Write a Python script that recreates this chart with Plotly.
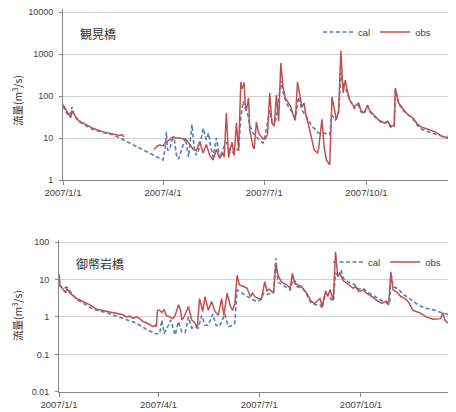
import pandas as pd
import plotly.graph_objects as go

START = pd.Timestamp("2007-01-01")

# ---- Top chart (観晃橋) ----
top_obs_day = [0, 3, 6, 7, 8, 10, 14, 20, 27, 36, 45, 48, 51, 53, 55, 68,
               82, 85, 87, 90, 93, 96, 99, 102, 105, 108, 111, 114, 117, 120, 123, 126, 129, 132, 135, 138, 141,
               144, 145, 147, 149, 152, 154, 156, 158, 160, 161, 162, 163, 164, 165, 167, 168, 171, 172, 174, 176,
               180, 182, 184, 186, 188, 190, 192, 194, 196, 198, 200, 205, 208, 209, 211, 213, 215, 217, 218, 221,
               224, 226, 229, 230, 233, 235, 237, 240, 242, 244, 246, 248, 250, 252, 254, 256, 258, 262, 266, 268,
               271, 274, 276, 280, 284, 289, 292, 295, 298, 299, 302, 307, 311, 315, 319, 323, 329, 335, 341, 346,
               347, 350]
top_obs_val = [62, 45, 32, 30, 45, 36, 26, 21, 17, 14, 12.5, 12, 11.5, 12, 10.5, None,
               5.4, 6.5, 6.8, 6.5, 8.2, 9, 10.6, 10, 10, 9.5, 9, 7, 5.4, 5, 8.2, 4.4, 7, 3.9, 3.0, 5.3, 3.3,
               4.4, 3.5, 40, 3.4, 8, 3.8, 23, 5, 215, 150, 170, 210, 60, 46, 90, 15.5, 6.1, 5.5, 24, 13,
               9.5, 9.5, 12, 118, 23, 19, 105, 25, 610, 163, 90, 55, 30, 26, 215, 95, 55, 68, 42, 20,
               9, 5.2, 4.4, 5.6, 28, 6, 3, 2.3, 95, 46, 27, 46, 1200, 118, 240, 125, 80, 55, 68, 45,
               40, 61, 45, 35, 27, 23, 25, 19, 20, 155, 68, 45, 35, 30, 21, 18, 16, 14, 11, 10,
               12, 9.5]

top_cal_day = [0, 3, 6, 8, 10, 14, 20, 27, 36, 45, 90, 92, 93, 94, 96, 98, 100, 102, 104, 107, 110, 113,
               116, 118, 120, 123, 126, 129, 131, 133, 135, 138, 141, 144, 147, 150, 153, 156, 158, 160, 162,
               164, 166, 168, 171, 175, 180, 182, 184, 186, 188, 191, 193, 196, 199, 202, 205, 209, 212, 215,
               218, 221, 224, 227, 230, 236, 240, 242, 245, 248, 250, 252, 254, 257, 262, 266, 268, 271, 274,
               276, 280, 284, 289, 292, 295, 298, 299, 302, 307, 311, 315, 319, 323, 329, 335, 341, 346, 347, 350]
top_cal_val = [58, 40, 33, 55, 35, 25, 20, 16, 13.5, 12, 3.0, 6, 14, 5.2, 5.2, 9, 10, 4, 3.1, 6, 10, 3.5,
               21, 6, 3.9, 6, 17, 9, 13, 6, 3.5, 10, 3.3, 5.5, 8, 5, 4.5, 5.5, 5, 30, 75,
               50, 39, 20, 13, 10, 7.6, 12, 25, 46, 23, 25, 46, 230, 95, 60, 46, 30, 95, 46,
               35, 25, 19, 16, 13, 13, 12, 35, 27, 40, 360, 200, 155, 95, 50, 60, 42, 38, 58,
               42, 33, 26, 22, 24, 18, 19, 140, 65, 43, 34, 28, 20, 16, 14, 12.5, 11, 10, 11, 9.5]

# ---- Bottom chart (御幣岩橋) ----
bot_obs_day = [0, 1, 2, 4, 6, 7, 10, 16, 22, 28, 34, 43, 52, 58, 61, 64, 67, 70, 73, 76, 79, 82, 85, 87, 88,
               89, 91, 93, 95, 97, 100, 103, 105, 108, 110, 111, 113, 117, 120, 123, 125, 127, 130, 132, 135,
               138, 141, 144, 147, 149, 152, 155, 157, 159, 161, 163, 167, 170, 173, 175, 177, 180, 183, 186,
               188, 190, 194, 196, 198, 201, 206, 209, 211, 213, 216, 219, 224, 228, 231, 234, 236, 238, 241,
               243, 245, 248, 250, 252, 254, 257, 260, 263, 266, 268, 271, 275, 278, 283, 287, 292, 295, 298,
               300, 302, 305, 309, 313, 316, 320, 326, 332, 338, 343, 345, 347, 349, 352, 355]
bot_obs_val = [14, 7, 6.4, 5.2, 4.4, 5.8, 4.3, 3.1, 2.6, 2.1, 1.6, 1.4, 1.2, 1.15, 1.0, 1.05, 0.92, 1.0, 0.9,
               0.75, 0.7, 0.61, 0.55, 0.6, 0.55,
               1.5, 1.5, 1.3, 1.6, 1.1, 1.0, 0.9, 1.1, 2.1, 1.5, 0.83, 1.0, 1.9, 0.83, 0.68, 0.5, 3.1, 1.4, 3.5,
               1.5, 2.6, 1.4, 1.1, 3.1, 1.1, 4.3, 1.9, 1.5, 2.3, 13, 7.1, 6.5, 5.8, 3.5, 4.3, 3.5, 3.1, 3.0, 8.7,
               5, 5.5, 4.3, 27, 13, 8.7, 7.1, 5.8, 14.6, 7.8, 7.1, 6.5, 4.3, 2.6, 2.3, 2.8, 3.1, 1.9, 5.0,
               3.5, 5.4, 2.8, 55, 11.8, 14.6, 9.4, 8, 7.1, 5.8, 6.5, 4.8, 5.2, 4.3, 3.5, 2.8, 2.3, 2.6, 2.1,
               14.6, 5.3, 4.7, 3.5, 3.1, 2.5, 1.5, 1.3, 1.0, 0.87, 0.87, 0.9, 1.3, 0.8, 0.68, 0.58]

bot_cal_day = [0, 4, 7, 10, 16, 22, 28, 34, 43, 52, 61, 70, 79, 88, 91, 93, 95, 97, 99, 101, 103, 105, 108,
               111, 114, 117, 120, 123, 126, 129, 132, 135, 139, 142, 145, 150, 153, 157, 159, 160, 161, 163,
               167, 171, 174, 179, 182, 185, 188, 191, 194, 196, 198, 201, 206, 209, 212, 215, 220, 224, 228,
               233, 236, 238, 241, 244, 248, 250, 252, 255, 257, 263, 267, 271, 275, 278, 283, 287, 292, 296,
               299, 300, 302, 307, 311, 316, 320, 326, 332, 340, 346, 350, 355]
bot_cal_val = [7, 5.8, 6.3, 4.8, 2.9, 2.3, 1.8, 1.5, 1.3, 1.05, 0.83, 0.68, 0.47, 0.35, 0.36, 0.83, 0.36, 0.45,
               0.6, 0.83, 0.5, 0.33, 0.75, 0.4, 0.38, 1.0, 0.5, 0.55, 0.5, 1.1, 0.6, 0.6, 1.2, 0.6, 0.55, 1.2,
               0.55, 0.6, 0.7, 1.5, 5.2, 4.8, 4.0, 3.3, 3.0, 2.6, 2.8, 4.3, 4.0, 4.3, 4.8, 37, 8.5, 7.5, 5.8,
               5.2, 12, 6.5, 6, 4.0, 2.3, 2.1, 2.1, 1.7, 4.3, 3.5, 2.6, 15, 12, 18, 10.8, 8, 7.4, 5.5, 5.8,
               4.8, 4, 3.3, 2.7, 2.6, 2.3, 16, 6.5, 5.5, 4, 3.3, 2.6, 2.0, 1.7, 1.5, 1.3, 1.2, 1.1]

x_tick_dates = ["2007-01-01", "2007-04-01", "2007-07-01", "2007-10-01"]
x_tick_text = ["2007/1/1", "2007/4/1", "2007/7/1", "2007/10/1"]
top_y_ticks = [1, 10, 100, 1000, 10000]
top_y_text = ["1", "10", "100", "1000", "10000"]
bot_y_ticks = [0.01, 0.1, 1, 10, 100]
bot_y_text = ["0.01", "0.1", "1", "10", "100"]
top_title = "観晃橋"
bot_title = "御幣岩橋"
y_title = "流量(m<sup>3</sup>/s)"


def to_dates(days):
    return [START + pd.Timedelta(days=d) for d in days]


BLUE = "#4F81BD"
RED = "#C0504D"
# The page body has an 8px margin: the figure is sized to the visible area.
OFF = 8
W, H = 456 - OFF, 412 - OFF
FONT = "Liberation Sans, Arial, Noto Sans CJK JP"


def px(X):
    return (X - OFF) / W


def py(Y):
    return 1 - (Y - OFF) / H


DASH = "4px,2.5px"
EPS = 0.003
TOP_PAD = 0.06          # extra decades above 10000 / 100 so their gridlines are kept
PX_PER_DEC_TOP = 42.0   # (180 - 12) / 4
PX_PER_DEC_BOT = 37.5   # (392 - 242) / 4

fig = go.Figure()
fig.add_trace(go.Scatter(x=to_dates(top_cal_day), y=top_cal_val, mode="lines", name="cal",
                         line=dict(color=BLUE, width=1.6, dash=DASH), xaxis="x", yaxis="y",
                         legend="legend"))
fig.add_trace(go.Scatter(x=to_dates(top_obs_day), y=top_obs_val, mode="lines", name="obs",
                         line=dict(color=RED, width=1.5), connectgaps=False, xaxis="x", yaxis="y",
                         legend="legend"))
fig.add_trace(go.Scatter(x=to_dates(bot_cal_day), y=bot_cal_val, mode="lines", name="cal",
                         line=dict(color=BLUE, width=1.6, dash=DASH), xaxis="x2", yaxis="y2",
                         legend="legend2"))
fig.add_trace(go.Scatter(x=to_dates(bot_obs_day), y=bot_obs_val, mode="lines", name="obs",
                         line=dict(color=RED, width=1.5), xaxis="x2", yaxis="y2",
                         legend="legend2"))

axis_common = dict(showline=True, linecolor="#868686", linewidth=1, zeroline=False, automargin=False,
                   ticklabeloverflow="allow")
xcommon = dict(axis_common, type="date", tickvals=x_tick_dates, ticktext=x_tick_text,
               showgrid=False, ticks="outside", ticklen=4, tickcolor="#868686",
               tickfont=dict(size=9.5, color="#404040", family=FONT))
ycommon = dict(axis_common, type="log", showgrid=True, gridcolor="#d0d0d0", gridwidth=1,
               ticks="outside", ticklen=3, tickcolor="#868686", ticklabelstandoff=4,
               tickfont=dict(size=9, color="#404040", family=FONT))

legend_common = dict(orientation="h", xanchor="right", yanchor="middle", bgcolor="rgba(0,0,0,0)",
                     font=dict(size=9.5, color="#404040", family=FONT), itemwidth=30, tracegroupgap=0)

fig.update_layout(
    width=W, height=H,
    margin=dict(l=0, r=0, t=0, b=0, autoexpand=False),
    paper_bgcolor="white", plot_bgcolor="white",
    font=dict(family=FONT, color="#404040"),
    showlegend=True,
    xaxis=dict(xcommon, domain=[px(63), px(452)], anchor="y",
               range=[START, START + pd.Timedelta(days=350)]),
    yaxis=dict(ycommon, domain=[py(180), py(12 - TOP_PAD * PX_PER_DEC_TOP)], anchor="x",
               range=[0, 4 + TOP_PAD], tickvals=top_y_ticks, ticktext=top_y_text),
    xaxis2=dict(xcommon, domain=[px(59), px(452)], anchor="y2",
                range=[START, START + pd.Timedelta(days=355.3)]),
    yaxis2=dict(ycommon, domain=[py(392), py(242 - TOP_PAD * PX_PER_DEC_BOT)], anchor="x2",
                range=[-2 - EPS, 2 + TOP_PAD], tickvals=bot_y_ticks, ticktext=bot_y_text),
    legend=dict(legend_common, x=px(436), y=py(32)),
    legend2=dict(legend_common, x=px(446), y=py(262)),
    annotations=[
        dict(text=top_title, x=px(78), y=py(33), xref="paper", yref="paper", xanchor="left",
             yanchor="middle", showarrow=False, font=dict(size=12, color="#333333", family="Noto Sans CJK JP")),
        dict(text=bot_title, x=px(74), y=py(263), xref="paper", yref="paper", xanchor="left",
             yanchor="middle", showarrow=False, font=dict(size=12, color="#333333", family="Noto Sans CJK JP")),
        dict(text=y_title, x=px(17), y=py(101), xref="paper", yref="paper", textangle=-90,
             xanchor="center", yanchor="middle", showarrow=False,
             font=dict(size=10.5, color="#333333", family="Noto Sans CJK JP")),
        dict(text=y_title, x=px(17), y=py(316), xref="paper", yref="paper", textangle=-90,
             xanchor="center", yanchor="middle", showarrow=False,
             font=dict(size=10.5, color="#333333", family="Noto Sans CJK JP")),
    ],
)

fig.write_html("out.html")
